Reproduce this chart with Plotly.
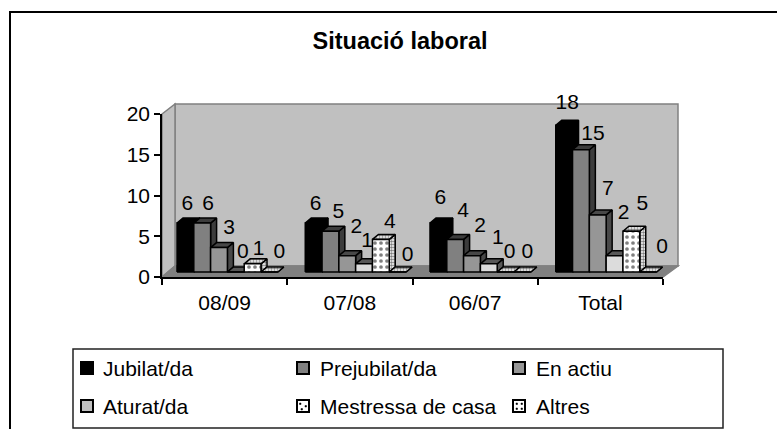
import plotly.graph_objects as go

categories = ["08/09", "07/08", "06/07", "Total"]
series_names = ["Jubilat/da", "Prejubilat/da", "En actiu", "Aturat/da", "Mestressa de casa", "Altres"]
jubilat = [6, 6, 6, 18]
prejubilat = [6, 5, 4, 15]
en_actiu = [3, 2, 2, 7]
aturat = [0, 1, 1, 2]
mestressa = [1, 4, 0, 5]
altres = [0, 0, 0, 0]
all_values = [jubilat, prejubilat, en_actiu, aturat, mestressa, altres]

W, H = 777, 429
L, R, T, B = 162, 663, 114, 277
PXX = (R - L) / 4
PXY = (B - T) / 20
FONT = "Liberation Sans, Arial, sans-serif"
FS = 21

def px(x): return (x - L) / (R - L)
def py(y): return (B - y) / (B - T)

front = ["#000000", "#808080", "#969696", "#DCDCDC", "#FFFFFF", "#FFFFFF"]
side = ["#000000", "#3C3C3C", "#484848", "#585858", "#FFFFFF", "#FFFFFF"]
dotted = [False, False, False, False, True, True]
swatch = ["#000000", "#808080", "#969696", "#C0C0C0", "#FFFFFF", "#FFFFFF"]

BASE = 5 / PXY
GROUP_OFF = [15 / PXX, 18 / PXX, 17.5 / PXX, 18 / PXX]
BAR_W = 16.8 / PXX
DX = 6 / PXX
DY = 5 / PXY
TEXT_HALF = 11
LABEL_DX = [
    [2, 6, 10, 7, 6, 10],
    [2, 8, 9, 3, 9, 10],
    [2, 8, 8, 9, 4, 5],
    [3, 12, 10, 9, 11, 14],
]
LABEL_DY = [
    [19, 19, 19, 20, 15, 20],
    [19, 19, 28, 23, 17, 17],
    [25, 28, 29, 26, 20, 20],
    [22, 16, 26, 42, 27, 25],
]

fig = go.Figure()

for s, vals in enumerate(all_values):
    fx, fy, tx, ty, sx, sy = [], [], [], [], [], []
    for g, v in enumerate(vals):
        x0 = g + GROUP_OFF[g] + s * BAR_W
        x1 = x0 + BAR_W
        top = BASE + v
        fx += [x0, x1, x1, x0, x0, None]
        fy += [BASE, BASE, top, top, BASE, None]
        tx += [x0, x1, x1 + DX, x0 + DX, x0, None]
        ty += [top, top, top + DY, top + DY, top, None]
        sx += [x1, x1 + DX, x1 + DX, x1, x1, None]
        sy += [BASE, BASE + DY, top + DY, top, BASE, None]
    for xs, ys, col, is_front in ((sx, sy, side[s], False), (tx, ty, side[s], False), (fx, fy, front[s], True)):
        kw = {}
        if dotted[s]:
            kw["fillpattern"] = (dict(shape=".", size=6, solidity=0.3, fgcolor="#000000", bgcolor="#FFFFFF")
                                 if is_front else
                                 dict(shape=".", size=3, solidity=0.55, fgcolor="#000000", bgcolor="#FFFFFF"))
        fig.add_trace(go.Scatter(x=xs, y=ys, mode="lines", fill="toself", fillcolor=col,
                                 line=dict(color="#000000", width=1.5), hoverinfo="skip",
                                 showlegend=False, cliponaxis=False, name=series_names[s], **kw))

for s, vals in enumerate(all_values):
    xs, ys = [], []
    for g, v in enumerate(vals):
        xs.append(g + GROUP_OFF[g] + s * BAR_W + BAR_W / 2 + LABEL_DX[g][s] / PXX)
        ys.append(BASE + v + (LABEL_DY[g][s] - TEXT_HALF) / PXY)
    fig.add_trace(go.Scatter(x=xs, y=ys, mode="text", text=[str(v) for v in vals],
                             textposition="top center", textfont=dict(family=FONT, size=FS, color="#000000"),
                             showlegend=False, cliponaxis=False, hoverinfo="skip"))

shapes = []
def poly(points, fill, line="#808080", width=1.5):
    d = "M " + " L ".join(f"{px(a):.5f},{py(b):.5f}" for a, b in points) + " Z"
    shapes.append(dict(type="path", path=d, xref="paper", yref="paper", fillcolor=fill,
                       line=dict(color=line, width=width), layer="below"))

def rect(x0, y0, x1, y1, fill, line="#000000", width=1.5):
    shapes.append(dict(type="rect", xref="paper", yref="paper", x0=px(x0), x1=px(x1), y0=py(y0), y1=py(y1),
                       fillcolor=fill, line=dict(color=line, width=width), layer="below"))

# chart frame: runs off the right and bottom edges of the picture
rect(10, 12, 790, 445, "#FFFFFF", "#000000", 2)
poly([(175, 104), (678, 104), (678, 266), (175, 266)], "#C0C0C0")
poly([(162, 114), (175, 104), (175, 266), (162, 277)], "#C0C0C0")
poly([(162, 277), (175, 266), (678, 266), (663, 277)], "#808080")
rect(73, 349, 723, 428, "#FFFFFF", "#222222", 1.5)

annotations = []
col_sw = [81, 297, 513]
col_tx = [102, 319, 535]
row_y = [368, 406]
for i, name in enumerate(series_names):
    c, r = i % 3, i // 3
    y = row_y[r]
    rect(col_sw[c], y - 6, col_sw[c] + 12, y + 6, swatch[i], "#000000", 2)
    annotations.append(dict(xref="paper", yref="paper", x=px(col_tx[c]), y=py(y), xanchor="left", yanchor="middle",
                            text=name, showarrow=False, borderpad=0, font=dict(family=FONT, size=FS, color="#000000")))
    if dotted[i]:
        pts = [(2.5, 3), (8, 5.5), (4, 8.5)] if i == 4 else [(3, 3), (8, 3), (3, 8), (8, 8)]
        for a, b in pts:
            rect(col_sw[c] + a, y - 6 + b, col_sw[c] + a + 1.5, y - 6 + b + 1.5, "#000000", "#000000", 0.5)

fig.update_layout(
    width=W, height=H, autosize=False,
    margin=dict(l=L, r=W - R, t=T, b=H - B, pad=0),
    paper_bgcolor="#FFFFFF", plot_bgcolor="rgba(0,0,0,0)",
    showlegend=False, shapes=shapes, annotations=annotations,
    title=dict(text="<b>Situació laboral</b>", x=400 / W, y=1 - 41 / H, xanchor="center", yanchor="middle",
               font=dict(family=FONT, size=23.5, color="#000000")),
    xaxis=dict(range=[0, 4], tickmode="array", tickvals=[0.5, 1.5, 2.5, 3.5], ticktext=categories, ticks="",
               ticklabelstandoff=6,
               showgrid=False, zeroline=False, showline=True, linecolor="#000000", linewidth=1.5,
               tickfont=dict(family=FONT, size=FS, color="#000000"),
               minor=dict(tickvals=[0, 1, 2, 3, 4], ticks="outside", ticklen=6, tickcolor="#000000", tickwidth=1.5, showgrid=False)),
    yaxis=dict(range=[0, 20], tickmode="array", tickvals=[0, 5, 10, 15, 20], ticks="outside", ticklen=6,
               tickcolor="#000000", tickwidth=1.5, showgrid=False, zeroline=False, showline=True,
               linecolor="#000000", linewidth=1.5, tickfont=dict(family=FONT, size=FS, color="#000000")),
)

fig.write_html("out.html", config=dict(displayModeBar=False),
               post_script="document.documentElement.style.overflow='hidden';document.body.style.margin='0';")
